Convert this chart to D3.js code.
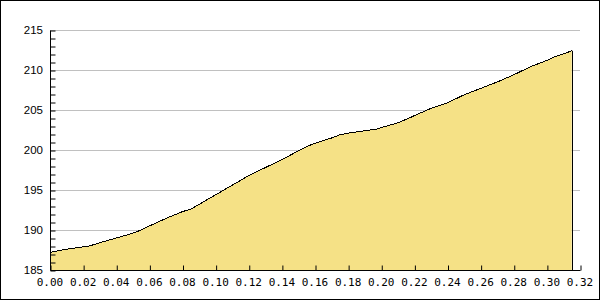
<!DOCTYPE html>
<html>
<head>
<meta charset="utf-8">
<script src="https://cdn.jsdelivr.net/npm/d3@7"></script>
<style>
html,body{margin:0;padding:0;background:#fff;}
svg{display:block;}
</style>
</head>
<body>
<svg id="chart" width="600" height="300"></svg>
<script>
const xValues = [0.000,0.010,0.020,0.023,0.030,0.040,0.050,0.055,0.060,0.070,0.080,0.085,0.090,0.100,0.105,0.110,0.120,0.130,0.140,0.150,0.157,0.160,0.170,0.175,0.180,0.190,0.197,0.200,0.210,0.217,0.220,0.230,0.240,0.250,0.260,0.270,0.280,0.286,0.290,0.300,0.304,0.310,0.315];
const yValues = [187.2,187.6,187.9,187.95,188.4,189.0,189.6,190.0,190.5,191.45,192.3,192.6,193.2,194.4,195.0,195.6,196.8,197.8,198.8,199.9,200.6,200.85,201.5,201.9,202.1,202.4,202.6,202.8,203.4,204.0,204.3,205.2,205.9,206.9,207.7,208.5,209.4,210.0,210.4,211.2,211.6,212.0,212.4];
const xTicks = [0,0.02,0.04,0.06,0.08,0.10,0.12,0.14,0.16,0.18,0.20,0.22,0.24,0.26,0.28,0.30,0.32];
const yTicks = [185,190,195,200,205,210,215];
const yMinorTicks = d3.range(185,216,1);

(function(){
const svg = d3.select("#chart");
const W = 600, H = 300;
const pL = 50, pR = 580, pT = 30, pB = 270;

svg.append("rect").attr("x",0.5).attr("y",0.5).attr("width",W-1).attr("height",H-1)
  .attr("fill","#fff").attr("stroke","#000").attr("stroke-width",1);

const x = d3.scaleLinear().domain([0,0.32]).range([pL,pR]);
const y = d3.scaleLinear().domain([185,215]).range([pB,pT]);

svg.append("g").selectAll("line").data(yTicks.filter(d=>d!==185)).join("line")
  .attr("x1",pL).attr("x2",pR)
  .attr("y1",d=>Math.round(y(d))+0.5).attr("y2",d=>Math.round(y(d))+0.5)
  .attr("stroke","#c0c0c0").attr("stroke-width",1);

const data = xValues.map((v,i)=>({x:v,y:yValues[i]}));

const area = d3.area().x(d=>x(d.x)).y0(y(185)).y1(d=>y(d.y));
svg.append("path").datum(data).attr("d",area).attr("fill","#f5e186").attr("stroke","none");

const line = d3.line().x(d=>x(d.x)).y(d=>y(d.y));
const last = data[data.length-1];
svg.append("path").datum(data).attr("d",line).attr("fill","none").attr("stroke","#000").attr("stroke-width",1)
  .attr("shape-rendering","crispEdges");
svg.append("line").attr("x1",Math.round(x(last.x))+0.5).attr("x2",Math.round(x(last.x))+0.5).attr("y1",y(last.y)).attr("y2",y(185))
  .attr("stroke","#000").attr("stroke-width",1);

const yAxis = d3.axisRight(y).tickValues(yMinorTicks).tickSize(5).tickFormat("");
const yg = svg.append("g").attr("transform",`translate(${pL+0.5},0.5)`).call(yAxis);
yg.select(".domain").attr("d",`M0,${pT}V${pB}`).attr("stroke","#000");
yg.selectAll("line").attr("stroke","#000");

svg.append("g").selectAll("text").data(yTicks).join("text")
  .attr("x",43).attr("y",d=>y(d)+4)
  .attr("text-anchor","end")
  .attr("font-family","'Liberation Sans', Arial, sans-serif").attr("font-size",11.5)
  .attr("fill","#000").text(d=>d);

const xAxis = d3.axisTop(x).tickValues(xTicks).tickSize(5).tickFormat("");
const xg = svg.append("g").attr("transform",`translate(0.5,${pB+0.5})`).call(xAxis);
xg.select(".domain").attr("d",`M${pL},0H${pR}`).attr("stroke","#000");
xg.selectAll("line").attr("stroke","#000");

svg.append("g").selectAll("text").data(xTicks).join("text")
  .attr("x",d=>x(d)).attr("y",286)
  .attr("text-anchor","middle")
  .attr("font-family","'DejaVu Sans Mono', monospace").attr("font-size",11)
  .attr("fill","#000").text(d=>d3.format(".2f")(d));
})();
</script>
</body>
</html>
